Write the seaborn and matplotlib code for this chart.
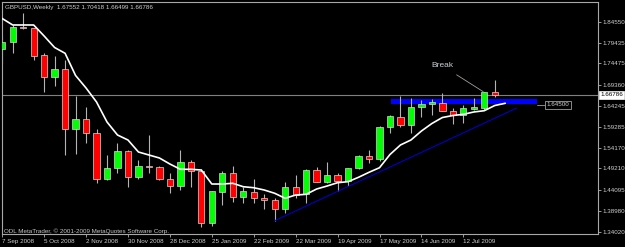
import matplotlib
matplotlib.use("Agg")
import matplotlib.pyplot as plt
import numpy as np
import pandas as pd
import seaborn as sns

# ---------------- data (weekly GBPUSD, 7 Sep 2008 .. 2 Aug 2009) ----------------
opens = [1.7793, 1.7969, 1.8323, 1.8291, 1.7649, 1.7113, 1.7305, 1.5861, 1.6109, 1.5780,
         1.4658, 1.4923, 1.5332, 1.4707, 1.4990, 1.4947, 1.4658, 1.4504, 1.5067, 1.4851,
         1.3614, 1.4360, 1.4817, 1.4225, 1.4353, 1.4201, 1.4153, 1.3936, 1.4466, 1.4305,
         1.4875, 1.4601, 1.4769, 1.4625, 1.4923, 1.5219, 1.5147, 1.5910, 1.6165, 1.5958,
         1.6405, 1.6470, 1.6506, 1.6294, 1.6217, 1.6357, 1.6367, 1.67552]
highs = [1.8082, 1.8371, 1.8660, 1.8295, 1.7690, 1.7625, 1.7529, 1.6663, 1.6391, 1.5876,
         1.5243, 1.5525, 1.5363, 1.5123, 1.5724, 1.4986, 1.4803, 1.5363, 1.5123, 1.4906,
         1.4377, 1.4865, 1.4978, 1.4480, 1.4658, 1.4297, 1.4201, 1.4586, 1.4762, 1.4899,
         1.4962, 1.5075, 1.4803, 1.4930, 1.5243, 1.5363, 1.5941, 1.6198, 1.6663, 1.6607,
         1.6578, 1.6602, 1.6735, 1.6374, 1.6434, 1.6614, 1.6750, 1.70418]
lows = [1.7457, 1.7704, 1.8275, 1.7529, 1.6766, 1.6903, 1.5243, 1.5267, 1.5525, 1.4562,
        1.4650, 1.4817, 1.4466, 1.4661, 1.4803, 1.4650, 1.4336, 1.4401, 1.4466, 1.3504,
        1.3535, 1.4040, 1.4119, 1.4081, 1.4095, 1.3936, 1.3662, 1.3840, 1.4201, 1.4095,
        1.4595, 1.4562, 1.4384, 1.4504, 1.4899, 1.5043, 1.5106, 1.5765, 1.5924, 1.5780,
        1.6165, 1.6205, 1.6290, 1.5977, 1.6020, 1.6326, 1.6326, 1.66499]
closes = [1.7969, 1.8316, 1.8291, 1.7632, 1.7113, 1.7312, 1.5861, 1.6109, 1.5780, 1.4658,
          1.4923, 1.5332, 1.4707, 1.4986, 1.4962, 1.4658, 1.4504, 1.5067, 1.4851, 1.3600,
          1.4377, 1.4817, 1.4225, 1.4377, 1.4211, 1.4153, 1.3951, 1.4466, 1.4281, 1.4882,
          1.4601, 1.4769, 1.4625, 1.4923, 1.5219, 1.5147, 1.5910, 1.6181, 1.5958, 1.6405,
          1.6465, 1.6511, 1.6294, 1.6217, 1.6362, 1.6398, 1.6750, 1.66786]
# moving average (shifted one bar forward, so one value more than the bars)
ma_values = [1.8527, 1.8371, 1.8371, 1.8371, 1.8106, 1.7829, 1.7690, 1.7156, 1.6855, 1.6518,
             1.6037, 1.5724, 1.5604, 1.5315, 1.5243, 1.5171, 1.5026, 1.4899, 1.4899, 1.4882,
             1.4545, 1.4545, 1.4562, 1.4480, 1.4456, 1.4401, 1.4322, 1.4201, 1.4281, 1.4297,
             1.4425, 1.4497, 1.4577, 1.4601, 1.4707, 1.4827, 1.4937, 1.5255, 1.5484, 1.5604,
             1.5820, 1.6001, 1.6145, 1.6193, 1.6222, 1.6278, 1.6309, 1.6434, 1.6487]
trend_bars = [26.0, 49.1]
trend_prices = [1.3662, 1.6374]
resistance_bars = [37.07, 51.06]
resistance_low, resistance_high = 1.6477, 1.6590
resistance_label = "1.64500"
current_price = 1.66786
ytick_values = [1.84550, 1.79435, 1.74475, 1.69360, 1.64245, 1.59285,
                1.54170, 1.49210, 1.44095, 1.38980, 1.34020]
xtick_bars = [0, 4, 8, 12, 16, 20, 24, 28, 32, 36, 40, 44]
xtick_labels = ["7 Sep 2008", "5 Oct 2008", "2 Nov 2008", "30 Nov 2008", "28 Dec 2008",
                "25 Jan 2009", "22 Feb 2009", "22 Mar 2009", "19 Apr 2009", "17 May 2009",
                "14 Jun 2009", "12 Jul 2009"]
title_text = "GBPUSD,Weekly  1.67552 1.70418 1.66499 1.66786"
footer_text = "ODL MetaTrader, \u00a9 2001-2009 MetaQuotes Software Corp."

df = pd.DataFrame({"bar": np.arange(len(opens)), "open": opens, "high": highs,
                   "low": lows, "close": closes})

# ---------------- style ----------------
sns.set_style("dark", {"axes.facecolor": "#000000", "figure.facecolor": "#000000"})
plt.rcParams["font.family"] = ["Liberation Sans", "DejaVu Sans"]

W, H = 625, 247
fig = plt.figure(figsize=(W / 100, H / 100), dpi=100, facecolor="#000000")
ax = fig.add_axes([2 / W, 1 - 234 / H, 595.7 / W, 232.5 / H])
ax.set_facecolor("#000000")

# resistance band (behind candles)
ax.fill_between(resistance_bars, resistance_low, resistance_high, color="#0000ff",
                lw=0, zorder=1)

# current price line
ax.axhline(current_price, color="#808080", lw=0.8, zorder=1.5)

# candles
up = df["close"] >= df["open"]
ax.vlines(df["bar"], df["low"], df["high"], color="#b4b4b4", lw=0.8, zorder=2)
body_col = np.where(up, "#00ff00", "#ff0000")
ax.bar(df["bar"], df["close"] - df["open"], bottom=df["open"], width=0.6,
       color=body_col, edgecolor="#d8d8d8", linewidth=0.5, zorder=3)

# moving average and trend line
sns.lineplot(x=np.arange(len(ma_values)), y=ma_values, color="white", lw=1.2,
             ax=ax, zorder=4)
sns.lineplot(x=trend_bars, y=trend_prices, color="#0000c8", lw=0.8, ax=ax, zorder=2.5)

# "Break" annotation
ax.annotate("Break", xy=(45.9, 1.6766), xytext=(42.0, 1.7389),
            color="#c8d0d8", fontsize=6, ha="center", va="center",
            arrowprops=dict(arrowstyle="-", color="#a0a0a0", lw=0.6,
                            shrinkA=3, shrinkB=0), zorder=5)

# resistance label
ax.plot([51.06, 51.85], [1.6450, 1.6450], color="#a0a0a0", lw=0.6, zorder=5)
ax.text(51.95, 1.6450, resistance_label, color="#d0d0d0", fontsize=4.5,
        ha="left", va="center", zorder=6,
        bbox=dict(boxstyle="square,pad=0.2", fc="#000000", ec="#a0a0a0", lw=0.6))

# axes limits & ticks
ax.set_xlim(-0.02, 56.82)
ax.set_ylim(1.33423, 1.89362)
ax.set_xticks(xtick_bars)
ax.set_xticklabels(xtick_labels, ha="left")
ax.set_yticks(ytick_values)
ax.set_yticklabels([f"{v:.5f}" for v in ytick_values])
ax.yaxis.tick_right()
ax.tick_params(axis="y", right=True, left=False, labelright=True, labelleft=False,
               length=2, width=0.6, pad=1.5, color="#b0b0b0", labelcolor="#d0d0d0",
               labelsize=4.5)
ax.tick_params(axis="x", bottom=True, length=2.5, width=0.6, pad=1.0, color="#b0b0b0",
               labelcolor="#d0d0d0", labelsize=4.5)
ax.set_xlabel("")
ax.set_ylabel("")
ax.grid(False)
for s in ax.spines.values():
    s.set_visible(True)
    s.set_color("#a8a8a8")
    s.set_linewidth(0.8)

# texts
fig.text(5 / W, 1 - 7 / H, title_text, color="#d0d0d0", fontsize=4.5,
         ha="left", va="center")
fig.text(4 / W, 1 - 230.7 / H, footer_text, color="#c8c8c8", fontsize=4.5,
         ha="left", va="center")
fig.text(600 / W, 1 - 95 / H, f"{current_price:.5f}", color="#000000", fontsize=4.5,
         ha="left", va="center",
         bbox=dict(boxstyle="square,pad=0.2", fc="#ffffff", ec="#ffffff", lw=0.5))

fig.savefig("out.png", dpi=100, facecolor="#000000")
